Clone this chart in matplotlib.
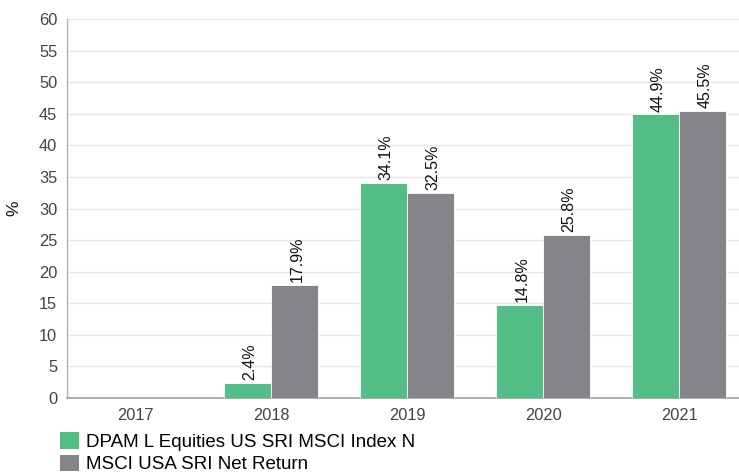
import matplotlib
matplotlib.use("Agg")
import matplotlib.pyplot as plt
import numpy as np
from matplotlib.patches import Patch

years = ["2017", "2018", "2019", "2020", "2021"]
fund = [None, 2.4, 34.1, 14.8, 44.9]
bench = [None, 17.9, 32.5, 25.8, 45.5]
fund_name = "DPAM L Equities US SRI MSCI Index N"
bench_name = "MSCI USA SRI Net Return"
yticks = list(range(0, 61, 5))

plt.rcParams['font.family'] = ['Liberation Sans', 'DejaVu Sans']
green = "#52bd84"
grey = "#858589"

W, H = 739, 476
fig = plt.figure(figsize=(W / 100, H / 100), dpi=100)
left_px, right_px, top_px, bot_px = 67, 739, 19, 398
ax = fig.add_axes([left_px / W, 1 - bot_px / H, (right_px - left_px) / W, (bot_px - top_px) / H])

x = np.arange(len(years))
bw = 47 / 136
for i in range(len(years)):
    if fund[i] is not None:
        ax.bar(x[i] - bw / 2, fund[i], width=bw, color=green, edgecolor="white", linewidth=0.6, zorder=3)
        ax.text(x[i] - bw / 2 + 0.02, fund[i] + 0.45, f"{fund[i]:.1f}%", rotation=90, ha="center", va="bottom",
                fontsize=11.5, color="#111111", zorder=4)
    if bench[i] is not None:
        ax.bar(x[i] + bw / 2, bench[i], width=bw, color=grey, edgecolor="white", linewidth=0.6, zorder=3)
        ax.text(x[i] + bw / 2 + 0.02, bench[i] + 0.45, f"{bench[i]:.1f}%", rotation=90, ha="center", va="bottom",
                fontsize=11.5, color="#111111", zorder=4)

ax.set_xlim(-0.5, -0.5 + (right_px - left_px) / 136)
ax.set_ylim(0, 60)
ax.set_yticks(yticks)
ax.set_xticks(x)
ax.set_xticklabels(years)
ax.tick_params(axis="both", length=0, labelsize=11.8, labelcolor="#444444")
ax.tick_params(axis="x", pad=7)
ax.tick_params(axis="y", pad=7)
ax.grid(axis="y", color="#e6e6e6", linewidth=1, zorder=0)
ax.set_axisbelow(True)
for s in ["top", "right"]:
    ax.spines[s].set_visible(False)
ax.spines["left"].set_color("#b0b0b0")
ax.spines["bottom"].set_color("#a0a0a0")
ax.spines["left"].set_linewidth(1)
ax.spines["bottom"].set_linewidth(1.2)

fig.text(14 / W, 1 - 208 / H, "%", rotation=90, ha="center", va="center", fontsize=12.5, color="#111111")

handles = [Patch(facecolor=green, edgecolor="none"), Patch(facecolor=grey, edgecolor="none")]
fig.legend(handles, [fund_name, bench_name], loc="upper left", bbox_to_anchor=(60 / W, 1 - 432 / H),
           frameon=False, fontsize=13.5, handlelength=1.0, handleheight=1.0, handletextpad=0.37,
           labelspacing=0.2, borderpad=0, borderaxespad=0)

fig.savefig("out.png", dpi=100)
